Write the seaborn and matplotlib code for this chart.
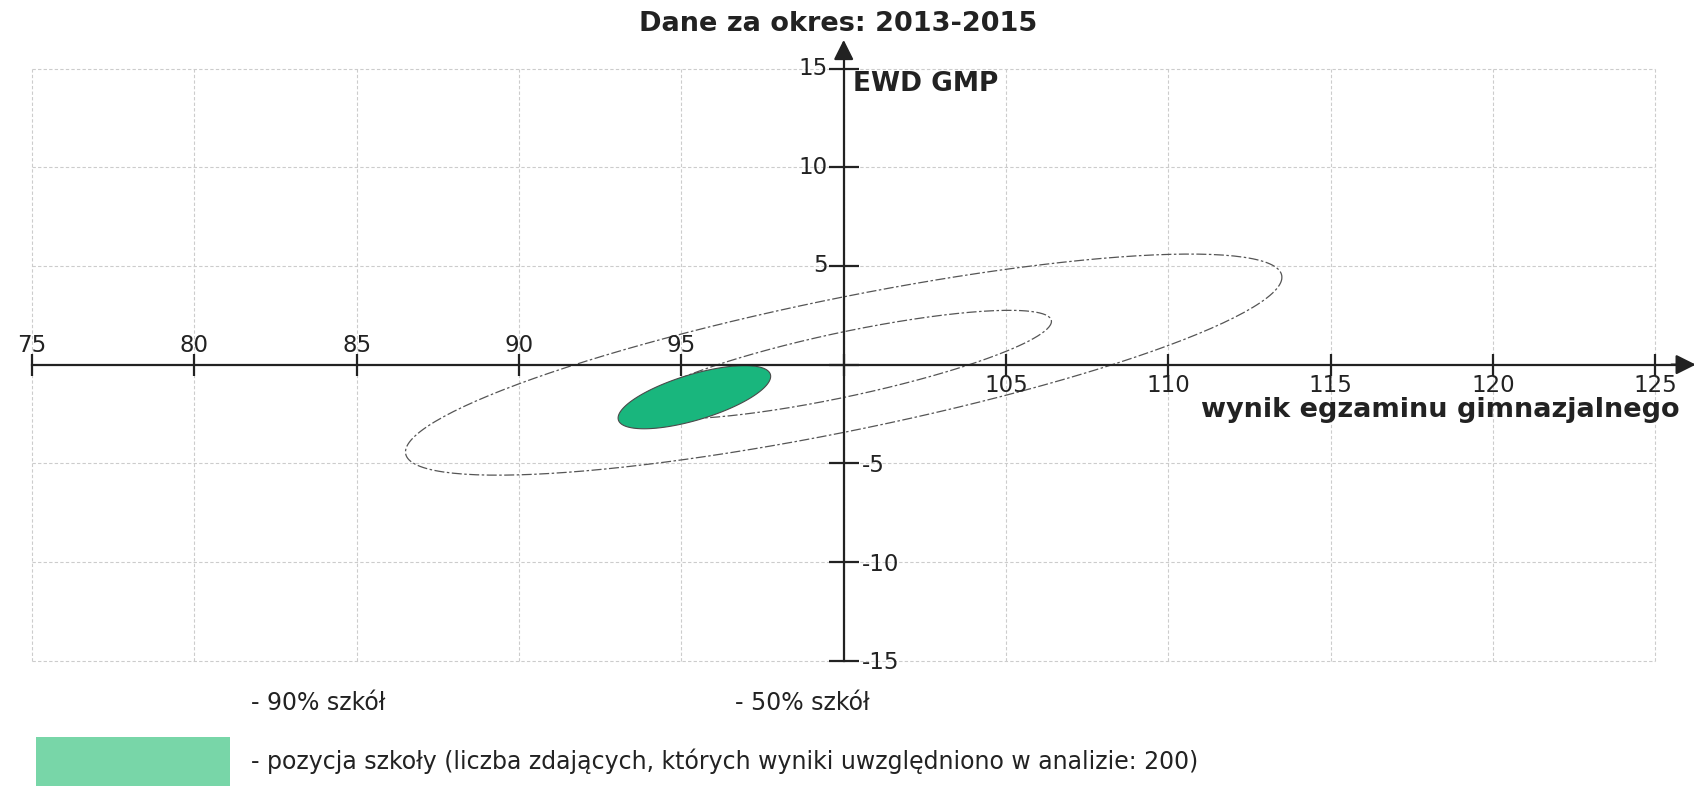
import numpy as np
import pandas as pd
import matplotlib
matplotlib.use('Agg')
import matplotlib.pyplot as plt
import seaborn as sns

# Ellipse data: 90% schools, 50% schools, school position
region_labels = ['90% szkół', '50% szkół', 'pozycja szkoły']
center_x = [100.0, 100.0, 95.4]
center_y = [0.0, 0.0, -1.65]
half_x = [13.5, 6.4, 2.35]
half_y = [5.6, 2.75, 1.6]
tilt = [0.66, 0.65, 0.85]

x_ticks = [75, 80, 85, 90, 95, 100, 105, 110, 115, 120, 125]
y_ticks = [-15, -10, -5, 0, 5, 10, 15]
x_labels_above = [75, 80, 85, 90, 95]
x_labels_below = [105, 110, 115, 120, 125]
y_labels_left = [15, 10, 5]
y_labels_right = [-5, -10, -15]

title = 'Dane za okres: 2013-2015'
x_title = 'wynik egzaminu gimnazjalnego'
y_title = 'EWD GMP'
legend_90 = '- 90% szkół'
legend_50 = '- 50% szkół'
legend_school = '- pozycja szkoły (liczba zdających, których wyniki uwzględniono w analizie: 200)'

INK = '#222222'
GRID = '#cccccc'
OUTLINE = '#555555'
GREEN = '#19b67d'
GREEN_LIGHT = '#78d6a8'


def ellipse_frame():
    t = np.linspace(0, 2 * np.pi, 241)
    rows = []
    for lab, cx, cy, ax_, ay_, ph in zip(region_labels, center_x, center_y, half_x, half_y, tilt):
        rows.append(pd.DataFrame({
            'region': lab,
            'x': cx + ax_ * np.cos(t),
            'y': cy + ay_ * np.cos(t + ph),
        }))
    return pd.concat(rows, ignore_index=True)


def main():
    sns.set_style('white')
    plt.rcParams['font.family'] = ['DejaVu Sans']

    fig = plt.figure(figsize=(16.94, 7.86), dpi=100)
    ax = fig.add_axes([0.00942, 0.1217, 0.99642, 0.8464])
    ax.set_xlim(74.5, 126.5)
    ax.set_ylim(-16.5, 17.2)

    # grid
    ax.vlines(x_ticks, -15, 15, color=GRID, lw=0.8, ls=(0, (3, 2)), zorder=0)
    ax.hlines([v for v in y_ticks if v != 0], 75, 125, color=GRID, lw=0.8,
              ls=(0, (3, 2)), zorder=0)

    df = ellipse_frame()
    outlines = df[df['region'] != 'pozycja szkoły']
    sns.lineplot(data=outlines, x='x', y='y', units='region', estimator=None,
                 sort=False, color=OUTLINE, lw=0.9, ax=ax, zorder=2)
    for ln in ax.lines:
        ln.set_linestyle((0, (8, 2, 2, 2)))

    school = df[df['region'] == 'pozycja szkoły']
    ax.fill(school['x'], school['y'], facecolor=GREEN, edgecolor='#4a4a4a',
            lw=0.8, zorder=3)

    # axes through the origin (100, 0)
    for side in ['top', 'right']:
        ax.spines[side].set_visible(False)
    ax.spines['bottom'].set_position(('data', 0))
    ax.spines['left'].set_position(('data', 100))
    ax.spines['bottom'].set_bounds(75, 125.8)
    ax.spines['left'].set_bounds(-15, 16.0)
    for side in ['bottom', 'left']:
        ax.spines[side].set_color(INK)
        ax.spines[side].set_linewidth(1.6)
        ax.spines[side].set_zorder(4)

    ax.set_xticks(x_ticks)
    ax.set_yticks(y_ticks)
    ax.tick_params(axis='x', bottom=True, direction='inout', length=16, width=1.6,
                   color=INK, labelbottom=False)
    ax.tick_params(axis='y', left=True, direction='inout', length=22, width=1.6,
                   color=INK, labelleft=False)
    ax.set_xlabel('')
    ax.set_ylabel('')

    head = dict(arrowstyle='-|>,head_length=0.6,head_width=0.3', color=INK,
                lw=1.6, shrinkA=0, shrinkB=0, mutation_scale=20)
    ax.annotate('', xy=(126.25, 0), xytext=(125.5, 0), arrowprops=head, zorder=5)
    ax.annotate('', xy=(100, 16.45), xytext=(100, 15.8), arrowprops=head, zorder=5)

    # tick labels
    for v in x_labels_above:
        ax.text(v, 0.98, str(v), ha='center', va='center', fontsize=16.5, color=INK)
    for v in x_labels_below:
        ax.text(v, -1.05, str(v), ha='center', va='center', fontsize=16.5, color=INK)
    for v in y_labels_left:
        ax.text(99.5, v, str(v), ha='right', va='center', fontsize=16.5, color=INK)
    for v in y_labels_right:
        ax.text(100.57, v - 0.1, str(v), ha='left', va='center', fontsize=16.5, color=INK)

    ax.text(100.3, 14.2, y_title, ha='left', va='center', fontsize=19,
            fontweight='bold', color=INK)
    ax.text(125.75, -2.32, x_title, ha='right', va='center', fontsize=19.5,
            fontweight='bold', color=INK)
    fig.text(0.495, 0.969, title, ha='center', va='center', fontsize=19.5,
             fontweight='bold', color=INK)

    # legend (symbols for the outlines are blank in the original)
    fig.text(0.148, 0.1055, legend_90, ha='left', va='center', fontsize=17, color=INK)
    fig.text(0.4337, 0.1055, legend_50, ha='left', va='center', fontsize=17, color=INK)
    fig.text(0.148, 0.031, legend_school, ha='left', va='center', fontsize=17, color=INK)
    fig.patches.append(plt.Rectangle((0.0211, 0.0), 0.1147, 0.0627,
                                     transform=fig.transFigure, facecolor=GREEN_LIGHT,
                                     edgecolor='none'))

    fig.savefig('out.png', dpi=100)


if __name__ == "__main__":
    main()
